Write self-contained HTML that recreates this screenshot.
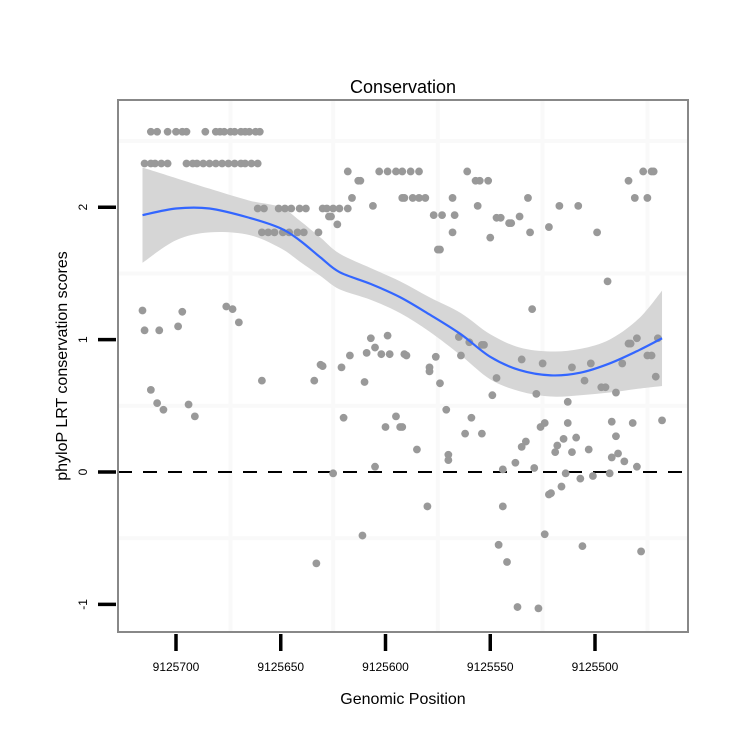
<!DOCTYPE html>
<html><head><meta charset="utf-8"><style>
body{margin:0;background:#fff}
svg{display:block;font-family:"Liberation Sans",sans-serif}
</style></head><body>
<svg id="chart" width="750" height="750">
<rect width="750" height="750" fill="#fff"/>
<g id="grid"></g>
<g id="band"></g>
<line id="zeroline" stroke="#000" stroke-width="2" stroke-dasharray="14,11"/>
<g id="pts"></g>
<g id="curve"></g>
<rect x="118" y="100" width="570" height="532" fill="none" stroke="#888" stroke-width="2"/>
<g id="axes"></g>
<text x="403" y="93" text-anchor="middle" font-size="18">Conservation</text>
<text x="403" y="704" text-anchor="middle" font-size="16">Genomic Position</text>
<text transform="translate(67,366) rotate(-90)" text-anchor="middle" font-size="16">phyloP LRT conservation scores</text>
</svg>
<script>
const xTicks = [9125700, 9125650, 9125600, 9125550, 9125500];
const yTicks = [2, 1, 0, -1];
const xGrid = [9125674, 9125625, 9125575, 9125525, 9125475];
const yGrid = [2.5, 1.5, 0.5, -0.5];
const P = [[712,2.57],[709,2.57],[704,2.57],[700,2.57],[697,2.57],[695,2.57],[686,2.57],[681,2.57],[679,2.57],[677,2.57],[674,2.57],[672,2.57],[669,2.57],[667,2.57],[665,2.57],[662,2.57],[660,2.57],
[715,2.33],[712,2.33],[710,2.33],[707,2.33],[704,2.33],[695,2.33],[692,2.33],[690,2.33],[687,2.33],[684,2.33],[681,2.33],[678,2.33],[675,2.33],[672,2.33],[669,2.33],[667,2.33],[664,2.33],[661,2.33],
[618,2.27],[603,2.27],[599,2.27],[595,2.27],[592,2.27],[588,2.27],[584,2.27],[561,2.27],[477,2.27],[473,2.27],[472,2.27],
[613,2.20],[612,2.20],[557,2.20],[555,2.20],[551,2.20],[484,2.20],
[616,2.07],[591,2.07],[592,2.07],[587,2.07],[584,2.07],[581,2.07],[568,2.07],[532,2.07],[481,2.07],[475,2.07],
[606,2.01],[573,1.94],[567,1.94],[556,2.01],[517,2.01],[508,2.01],[522,1.85],
[661,1.99],[658,1.99],[651,1.99],[648,1.99],[645,1.99],[641,1.99],[638,1.99],[630,1.99],[628,1.99],[625,1.99],[622,1.99],[618,1.99],
[627,1.93],[626,1.93],[623,1.87],
[659,1.81],[656,1.81],[653,1.81],[649,1.81],[646,1.81],[642,1.81],[639,1.81],[632,1.81],
[577,1.94],[547,1.92],[545,1.92],[541,1.88],[540,1.88],[536,1.93],[531,1.81],[550,1.77],[568,1.81],[575,1.68],[574,1.68],[499,1.81],[494,1.44],[530,1.23],
[716,1.22],[697,1.21],[715,1.07],[708,1.07],[699,1.10],[676,1.25],[673,1.23],[670,1.13],
[607,1.01],[599,1.03],[605,0.94],[609,0.90],[602,0.89],[598,0.89],[617,0.88],[631,0.81],[621,0.79],[591,0.89],
[565,1.02],[560,0.98],[554,0.96],[553,0.96],[590,0.88],[576,0.87],[564,0.88],[579,0.79],[535,0.85],[525,0.82],[511,0.79],[502,0.82],[487,0.82],[484,0.97],[483,0.97],[480,1.01],[475,0.88],[473,0.88],[470,1.01],
[712,0.62],[709,0.52],[706,0.47],[694,0.51],[691,0.42],[659,0.69],[634,0.69],[630,0.80],[610,0.68],[620,0.41],[600,0.34],[595,0.42],[593,0.34],[605,0.04],[625,-0.01],[611,-0.48],[633,-0.69],
[579,0.76],[574,0.67],[547,0.71],[549,0.58],[528,0.59],[513,0.53],[505,0.69],[497,0.64],[495,0.64],[490,0.60],[471,0.72],
[592,0.34],[571,0.47],[559,0.41],[562,0.29],[554,0.29],[585,0.17],[570,0.13],[570,0.09],[533,0.23],[535,0.19],[526,0.34],[524,0.37],[513,0.37],[515,0.25],[509,0.26],[518,0.20],[519,0.15],[511,0.15],[503,0.17],[492,0.38],[482,0.37],[490,0.27],[489,0.14],[492,0.11],[486,0.08],[480,0.04],[468,0.39],
[544,0.02],[538,0.07],[529,0.03],[514,-0.01],[507,-0.05],[501,-0.03],[493,-0.01],[516,-0.11],[521,-0.16],[522,-0.17],[580,-0.26],[544,-0.26],[524,-0.47],[546,-0.55],[542,-0.68],[506,-0.56],[478,-0.60],[537,-1.02],[527,-1.03]];
const positions = P.map(p => 9125000 + p[0]);
const scores = P.map(p => p[1]);
const fitPos = [9125716,9125700,9125684,9125665,9125650,9125641,9125631,9125622,9125607,9125593,9125579,9125564,9125550,9125536,9125521,9125507,9125493,9125479,9125468];
const fitVal = [1.94,1.99,1.99,1.92,1.84,1.75,1.62,1.51,1.42,1.32,1.19,1.04,0.87,0.77,0.73,0.75,0.82,0.92,1.01];
const fitLo = [1.58,1.75,1.81,1.79,1.69,1.59,1.48,1.38,1.30,1.20,1.06,0.88,0.70,0.61,0.57,0.58,0.60,0.63,0.65];
const fitHi = [2.30,2.22,2.14,2.05,2.00,1.90,1.77,1.65,1.54,1.44,1.32,1.20,1.04,0.94,0.91,0.93,1.00,1.16,1.37];

const NS = 'http://www.w3.org/2000/svg';
const X = v => 176 + (9125700 - v) * 2.095;
const Y = v => 472 - v * 132.4;
function mk(tag, parent, attrs) {
  const e = document.createElementNS(NS, tag);
  for (const k in attrs) e.setAttribute(k, attrs[k]);
  document.getElementById(parent).appendChild(e);
  return e;
}
function smooth(pts, start) {
  let s = start ? 'M' + pts[0][0] + ',' + pts[0][1] : 'L' + pts[0][0] + ',' + pts[0][1];
  for (let i = 0; i < pts.length - 1; i++) {
    const p0 = pts[Math.max(0, i - 1)], p1 = pts[i], p2 = pts[i + 1], p3 = pts[Math.min(pts.length - 1, i + 2)];
    const c1x = p1[0] + (p2[0] - p0[0]) / 6, c1y = p1[1] + (p2[1] - p0[1]) / 6;
    const c2x = p2[0] - (p3[0] - p1[0]) / 6, c2y = p2[1] - (p3[1] - p1[1]) / 6;
    s += 'C' + c1x + ',' + c1y + ' ' + c2x + ',' + c2y + ' ' + p2[0] + ',' + p2[1];
  }
  return s;
}
xGrid.forEach(g => {
  const l = mk('line', 'grid', {x1: X(g), x2: X(g), y1: 101, y2: 631, stroke: '#f9f9f9', 'stroke-width': 4});
  
  
});
yGrid.forEach(g => {
  const l = mk('line', 'grid', {x1: 119, x2: 687, y1: Y(g), y2: Y(g), stroke: '#f9f9f9', 'stroke-width': 4});
  
  
});
const hiPts = fitPos.map((p, i) => [X(p), Y(fitHi[i])]);
const loPts = fitPos.map((p, i) => [X(p), Y(fitLo[i])]).reverse();
const band = mk('path', 'band', {d: smooth(hiPts, true) + smooth(loPts, false) + 'Z', fill: '#d6d6d6'});


const z = document.getElementById('zeroline');
z.setAttribute('x1', 118); z.setAttribute('x2', 688);
z.setAttribute('y1', Y(0)); z.setAttribute('y2', Y(0));
positions.forEach((p, i) => {
  const c = mk('circle', 'pts', {cx: X(p), cy: Y(scores[i]), r: 3.9, fill: '#999'});
  
  
});
const fitPts = fitPos.map((p, i) => [X(p), Y(fitVal[i])]);
const cv = mk('path', 'curve', {d: smooth(fitPts, true), fill: 'none', stroke: '#3366ff', 'stroke-width': 2.2, 'stroke-linejoin': 'round'});


xTicks.forEach(t => {
  const l = mk('line', 'axes', {x1: X(t), x2: X(t), y1: 634, y2: 651, stroke: '#000', 'stroke-width': 3.5});
  
  
  const tx = mk('text', 'axes', {x: X(t), y: 671, 'text-anchor': 'middle', 'font-size': 12});
  tx.textContent = t;
  
  
});
yTicks.forEach(t => {
  const l = mk('line', 'axes', {x1: 98, x2: 116, y1: Y(t), y2: Y(t), stroke: '#000', 'stroke-width': 3.5});
  
  
  const tx = mk('text', 'axes', {transform: 'translate(87,' + Y(t) + ') rotate(-90)', 'text-anchor': 'middle', 'font-size': 12});
  tx.textContent = t;
  
  
});
</script>
</body></html>
